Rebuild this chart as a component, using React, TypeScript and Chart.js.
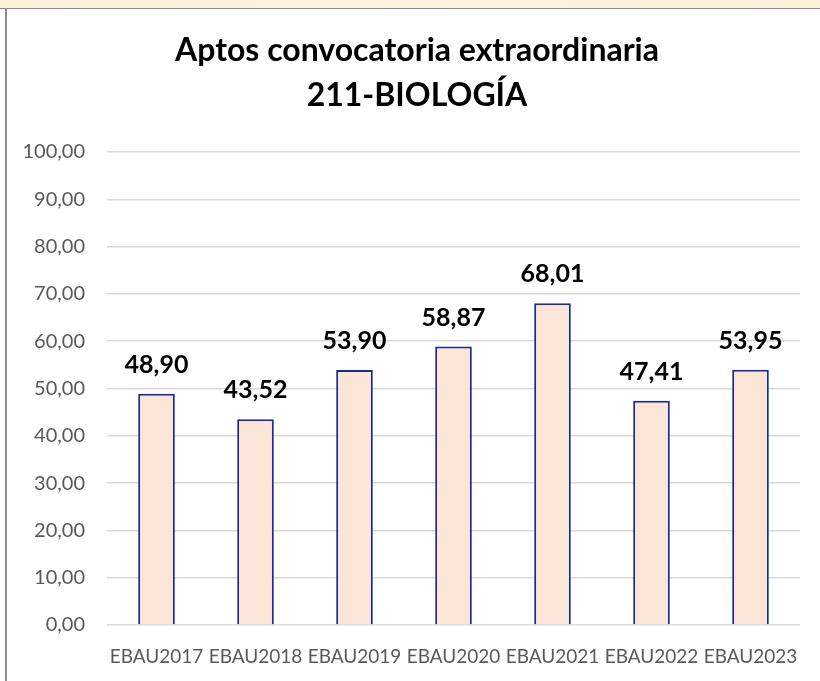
import React, { useEffect, useRef } from "react";
import { Chart, registerables } from "chart.js";

Chart.register(...registerables);

const categories = ["EBAU2017", "EBAU2018", "EBAU2019", "EBAU2020", "EBAU2021", "EBAU2022", "EBAU2023"];
const values = [48.9, 43.52, 53.9, 58.87, 68.01, 47.41, 53.95];
const titleLines = ["Aptos convocatoria extraordinaria", "211-BIOLOGÍA"];

const fmt = (v: number) => v.toFixed(2).replace(".", ",");

const FONT = "Lato, 'Open Sans', sans-serif";

const labelPlugin = {
  id: "valueLabels",
  afterDatasetsDraw(chart: any) {
    const ctx = chart.ctx;
    const meta = chart.getDatasetMeta(0);
    ctx.save();
    ctx.font = `bold 25px ${FONT}`;
    ctx.fillStyle = "#000000";
    ctx.textAlign = "center";
    ctx.textBaseline = "alphabetic";
    meta.data.forEach((bar: any, i: number) => {
      ctx.fillText(fmt(values[i]), bar.x, bar.y - 21);
    });
    ctx.restore();
  },
};

const titlePlugin = {
  id: "customTitle",
  afterDraw(chart: any) {
    const ctx = chart.ctx;
    ctx.save();
    ctx.font = `bold 32px ${FONT}`;
    ctx.fillStyle = "#000000";
    ctx.textAlign = "center";
    ctx.textBaseline = "alphabetic";
    ctx.fillText(titleLines[0], 417, 51);
    ctx.fillText(titleLines[1], 417, 96);
    ctx.restore();
  },
};

export default function App() {
  const ref = useRef<HTMLCanvasElement | null>(null);

  useEffect(() => {
    document.body.style.margin = "0";
    const chart = new Chart(ref.current as HTMLCanvasElement, {
      type: "bar",
      data: {
        labels: categories,
        datasets: [
          {
            data: values,
            backgroundColor: "#fbe5d6",
            borderColor: "#1c2b92",
            borderWidth: 2,
            categoryPercentage: 1,
            barPercentage: 0.37,
          },
        ],
      },
      options: {
        responsive: false,
        animation: false,
        layout: { padding: { top: 142, right: 20, left: 0, bottom: 0 } },
        plugins: {
          legend: { display: false },
          title: { display: false },
          tooltip: { enabled: false },
        },
        scales: {
          x: {
            afterFit: (s: any) => {
              s.height = 56;
            },
            grid: { display: false, drawTicks: false },
            border: { display: false },
            ticks: {
              color: "#595959",
              font: { family: FONT, size: 19 },
              padding: 20,
              maxRotation: 0,
              autoSkip: false,
            },
          },
          y: {
            min: 0,
            max: 100,
            afterFit: (s: any) => {
              s.width = 107;
            },
            grid: { color: "#d9d9d9", lineWidth: 1.5, drawTicks: false },
            border: { display: false },
            ticks: {
              stepSize: 10,
              color: "#595959",
              font: { family: FONT, size: 20 },
              padding: 22,
              callback: (v: any) => fmt(Number(v)),
            },
          },
        },
      },
      plugins: [labelPlugin, titlePlugin],
    });
    return () => chart.destroy();
  }, []);

  return (
    <div style={{ position: "fixed", left: 0, top: 0, width: 820, height: 681, background: "#ffffff", overflow: "hidden" }}>
      <canvas ref={ref} width={820} height={671} style={{ position: "absolute", left: 0, top: 10, width: 820, height: 671 }} />
      <div
        style={{
          position: "absolute",
          left: 0,
          top: 0,
          width: 820,
          height: 8,
          background: "linear-gradient(90deg, #fbefd8, #fdf3e0 50%, #fbefd8)",
          borderBottom: "1px solid #8c8c8c",
        }}
      />
      <div style={{ position: "absolute", left: 5, top: 9, width: 2, height: 672, background: "#8c8c8c" }} />
    </div>
  );
}
